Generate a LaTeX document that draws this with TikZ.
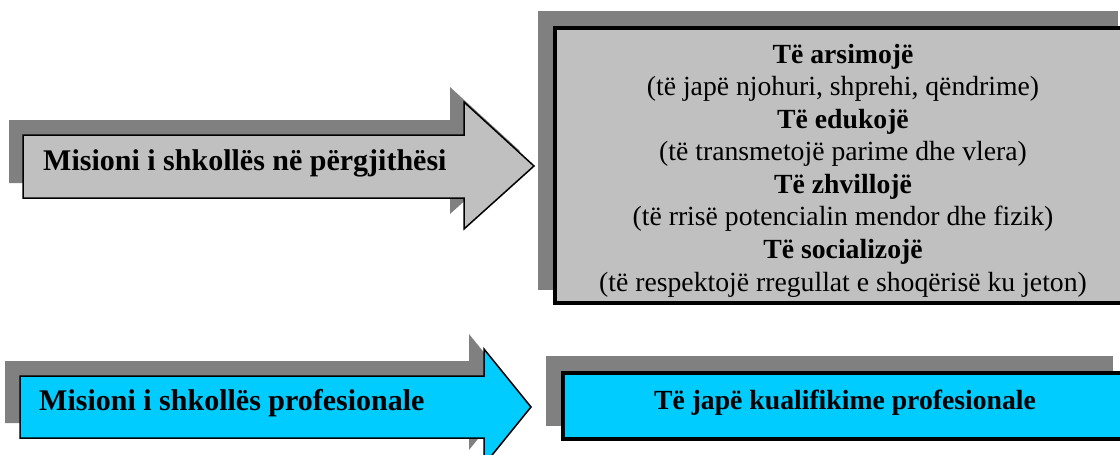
\documentclass[tikz,border=0pt]{standalone}
\usepackage{fontspec}
\setmainfont{Liberation Serif}
\usetikzlibrary{backgrounds}
\definecolor{panelgray}{HTML}{C0C0C0}
\definecolor{shadowgray}{HTML}{808080}
\definecolor{skycyan}{HTML}{00CCFF}
\begin{document}
\begin{tikzpicture}[x=1pt, y=-1pt,
  dropshadow/.style={fill=shadowgray, draw=none},
  arrowshape/.style={draw=black, line width=1.5pt, line join=miter},
  frame/.style={rectangle, draw=black, line width=3.5pt, inner sep=0pt},
  arrowtext/.style={font=\bfseries\fontsize{30}{34}\selectfont, inner sep=0pt, anchor=base west},
  goalline/.style={font=\fontsize{27.7}{32.6}\selectfont, inner sep=0pt, anchor=base},
  goalhead/.style={font=\bfseries\fontsize{27.7}{32.6}\selectfont, inner sep=0pt, anchor=base},
]
\useasboundingbox (0,0) rectangle (1120,455);
\clip (0,0) rectangle (1120,455);

% ---- general mission: arrow ----
\fill[dropshadow, shift={(-14,-15)}]
  (23,135) -- (464,135) -- (464,102) -- (534,166) -- (464,229) -- (464,198) -- (23,198) -- cycle;
\filldraw[arrowshape, fill=panelgray]
  (23,135) -- (464,135) -- (464,102) -- (534,166) -- (464,229) -- (464,198) -- (23,198) -- cycle;
\node[arrowtext] (general) at (43,170) {Misioni i shkollës në përgjithësi};

% ---- general mission: goals box ----
\node[frame, fill=panelgray, minimum width=576pt, minimum height=275pt] (goals) at (843,165.5) {};
\begin{scope}[on background layer]
  \fill[dropshadow] ([shift={(-15,-15)}]goals.north west) rectangle ([shift={(-15,-15)}]goals.south east);
\end{scope}
\node[goalhead] (g1) at (843,63)    {Të arsimojë};
\node[goalline] (g2) at (843,95.6)  {(të japë njohuri, shprehi, qëndrime)};
\node[goalhead] (g3) at (843,128.1) {Të edukojë};
\node[goalline] (g4) at (843,160.7) {(të transmetojë parime dhe vlera)};
\node[goalhead] (g5) at (843,193.3) {Të zhvillojë};
\node[goalline] (g6) at (843,225.9) {(të rrisë potencialin mendor dhe fizik)};
\node[goalhead] (g7) at (843,258.4) {Të socializojë};
\node[goalline] (g8) at (843,291)   {(të respektojë rregullat e shoqërisë ku jeton)};

% ---- vocational mission: arrow ----
\fill[dropshadow, shift={(-15,-15)}]
  (20,376) -- (484,376) -- (484,349) -- (531,407) -- (484,465) -- (484,438) -- (20,438) -- cycle;
\filldraw[arrowshape, fill=skycyan]
  (20,376) -- (484,376) -- (484,349) -- (531,407) -- (484,465) -- (484,438) -- (20,438) -- cycle;
\node[arrowtext] (vocational) at (39,410) {Misioni i shkollës profesionale};

% ---- vocational mission: goal box ----
\node[frame, fill=skycyan, minimum width=563pt, minimum height=66pt] (qualify) at (844.5,406) {};
\begin{scope}[on background layer]
  \fill[dropshadow] ([shift={(-15,-15)}]qualify.north west) rectangle ([shift={(-15,-15)}]qualify.south east);
\end{scope}
\node[goalhead] (qtext) at (845,409) {Të japë kualifikime profesionale};
\end{tikzpicture}
\end{document}
